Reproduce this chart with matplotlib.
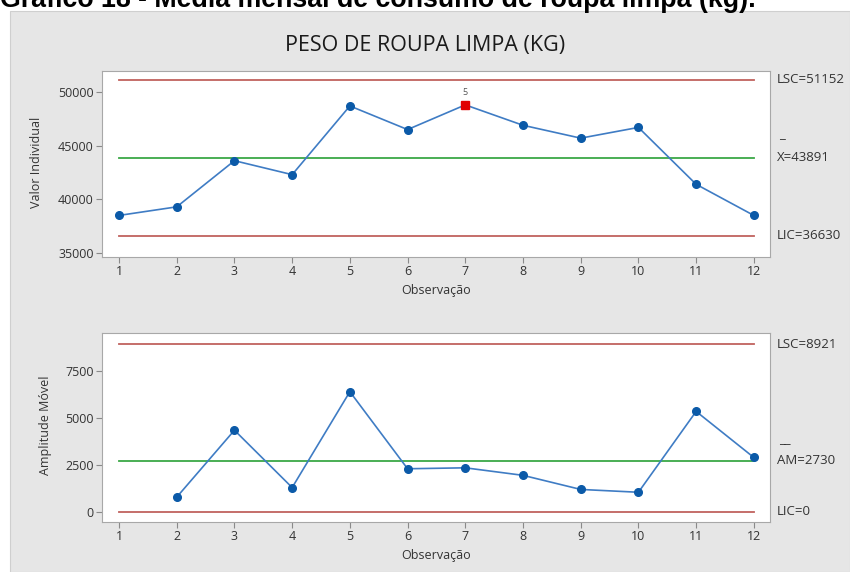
import matplotlib
matplotlib.use('Agg')
import matplotlib.pyplot as plt
from matplotlib.patches import Rectangle
import matplotlib.transforms as mtransforms

# ---------------------- DATA ----------------------

obs = [1, 2, 3, 4, 5, 6, 7, 8, 9, 10, 11, 12]
valores = [38500, 39300, 43600, 42300, 48700, 46500, 48800, 46900, 45700, 46700, 41400, 38500]

obs_am = [2, 3, 4, 5, 6, 7, 8, 9, 10, 11, 12]
amplitudes = [790, 4350, 1300, 6400, 2300, 2350, 1950, 1200, 1050, 5350, 2900]

lsc_i, media_i, lic_i = 51152, 43891, 36630
lsc_am, media_am, lic_am = 8921, 2730, 0

ponto_fora = 7  # observacao marcada (teste 5)

yticks_i = [35000, 40000, 45000, 50000]
yticks_am = [0, 2500, 5000, 7500]

# ---------------------- STYLE ----------------------

plt.rcParams['font.family'] = ['Open Sans', 'DejaVu Sans']
BG = '#e6e6e6'
RED = '#c0625e'
GREEN = '#3aa846'
BLUE = '#3f7cc4'
MARK = '#0b5aa8'
TXT = '#333333'
FS_TICK = 9
FS_LAB = 9
FS_LIM = 9.5

fig = plt.figure(figsize=(8.5, 5.72), dpi=100)
fig.patch.set_facecolor('white')
fig.patches.append(Rectangle((10 / 850, 0), 840 / 850, 561 / 572,
                             transform=fig.transFigure, facecolor=BG,
                             edgecolor='#cfcfcf', lw=0.8, zorder=-5))

fig.text(0.0, 1 - 7 / 572, 'Gráfico 18 - Média mensal de consumo de roupa limpa (kg).',
         family='Liberation Sans', weight='bold', fontsize=19.3, va='baseline', ha='left')
fig.text(0.5, 1 - 45 / 572, 'PESO DE ROUPA LIMPA (KG)', fontsize=15.5,
         ha='center', va='center', color='#1a1a1a')


def style_axis(ax, yticks, ylim):
    ax.set_facecolor('white')
    ax.set_xlim(0.705, 12.28)
    ax.set_ylim(*ylim)
    ax.set_xticks(obs)
    ax.set_yticks(yticks)
    for s in ax.spines.values():
        s.set_color('#a8a8a8')
    ax.tick_params(length=4, color='#8a8a8a', labelsize=FS_TICK, labelcolor=TXT, pad=2)
    ax.set_xlabel('Observação', fontsize=FS_LAB, color=TXT, labelpad=4)


def limit_lines(ax, lsc, media, lic):
    ax.plot([obs[0], obs[-1]], [lsc, lsc], color=RED, lw=1.3, zorder=2)
    ax.plot([obs[0], obs[-1]], [media, media], color=GREEN, lw=1.3, zorder=2)
    ax.plot([obs[0], obs[-1]], [lic, lic], color=RED, lw=1.3, zorder=2)


# ---------------------- VALOR INDIVIDUAL ----------------------

ax1 = fig.add_axes([102 / 850, 1 - 257 / 572, 668 / 850, 186 / 572])
style_axis(ax1, yticks_i, (34627, 51957))
limit_lines(ax1, lsc_i, media_i, lic_i)
ax1.plot(obs, valores, color=BLUE, lw=1.2, marker='o', ms=5.5,
         mfc=MARK, mec=MARK, zorder=3)
i = obs.index(ponto_fora)
ax1.plot(obs[i], valores[i], marker='s', ms=6, color='#e00000', zorder=4)
ax1.annotate('5', (obs[i], valores[i]), xytext=(0, 6), textcoords='offset points',
             ha='center', va='bottom', fontsize=6.5, color='#555555')

tr1 = mtransforms.blended_transform_factory(ax1.transAxes, ax1.transData)
ax1.text(1.01, lsc_i, f'LSC={lsc_i}', transform=tr1, fontsize=FS_LIM, color=TXT, va='center')
ax1.text(1.01, media_i, f'X={media_i}', transform=tr1, fontsize=FS_LIM, color=TXT, va='center')
ax1.text(1.013, media_i + 1500, '_', transform=tr1, fontsize=FS_LIM, color=TXT, va='bottom')
ax1.text(1.01, lic_i, f'LIC={lic_i}', transform=tr1, fontsize=FS_LIM, color=TXT, va='center')
fig.text(37 / 850, 1 - 162 / 572, 'Valor Individual', rotation=90, fontsize=FS_LAB,
         color=TXT, ha='center', va='center')

# ---------------------- AMPLITUDE MOVEL ----------------------

ax2 = fig.add_axes([102 / 850, 1 - 522 / 572, 668 / 850, 189 / 572])
style_axis(ax2, yticks_am, (-532, 9521))
limit_lines(ax2, lsc_am, media_am, lic_am)
ax2.plot(obs_am, amplitudes, color=BLUE, lw=1.2, marker='o', ms=5.5,
         mfc=MARK, mec=MARK, zorder=3)

tr2 = mtransforms.blended_transform_factory(ax2.transAxes, ax2.transData)
ax2.text(1.01, lsc_am, f'LSC={lsc_am}', transform=tr2, fontsize=FS_LIM, color=TXT, va='center')
ax2.text(1.01, media_am, f'AM={media_am}', transform=tr2, fontsize=FS_LIM, color=TXT, va='center')
ax2.text(1.014, media_am + 800, '__', transform=tr2, fontsize=FS_LIM, color=TXT, va='bottom')
ax2.text(1.01, lic_am, f'LIC={lic_am}', transform=tr2, fontsize=FS_LIM, color=TXT, va='center')
fig.text(45 / 850, 1 - 425 / 572, 'Amplitude Móvel', rotation=90, fontsize=FS_LAB,
         color=TXT, ha='center', va='center')

fig.savefig('out.png', dpi=100)
